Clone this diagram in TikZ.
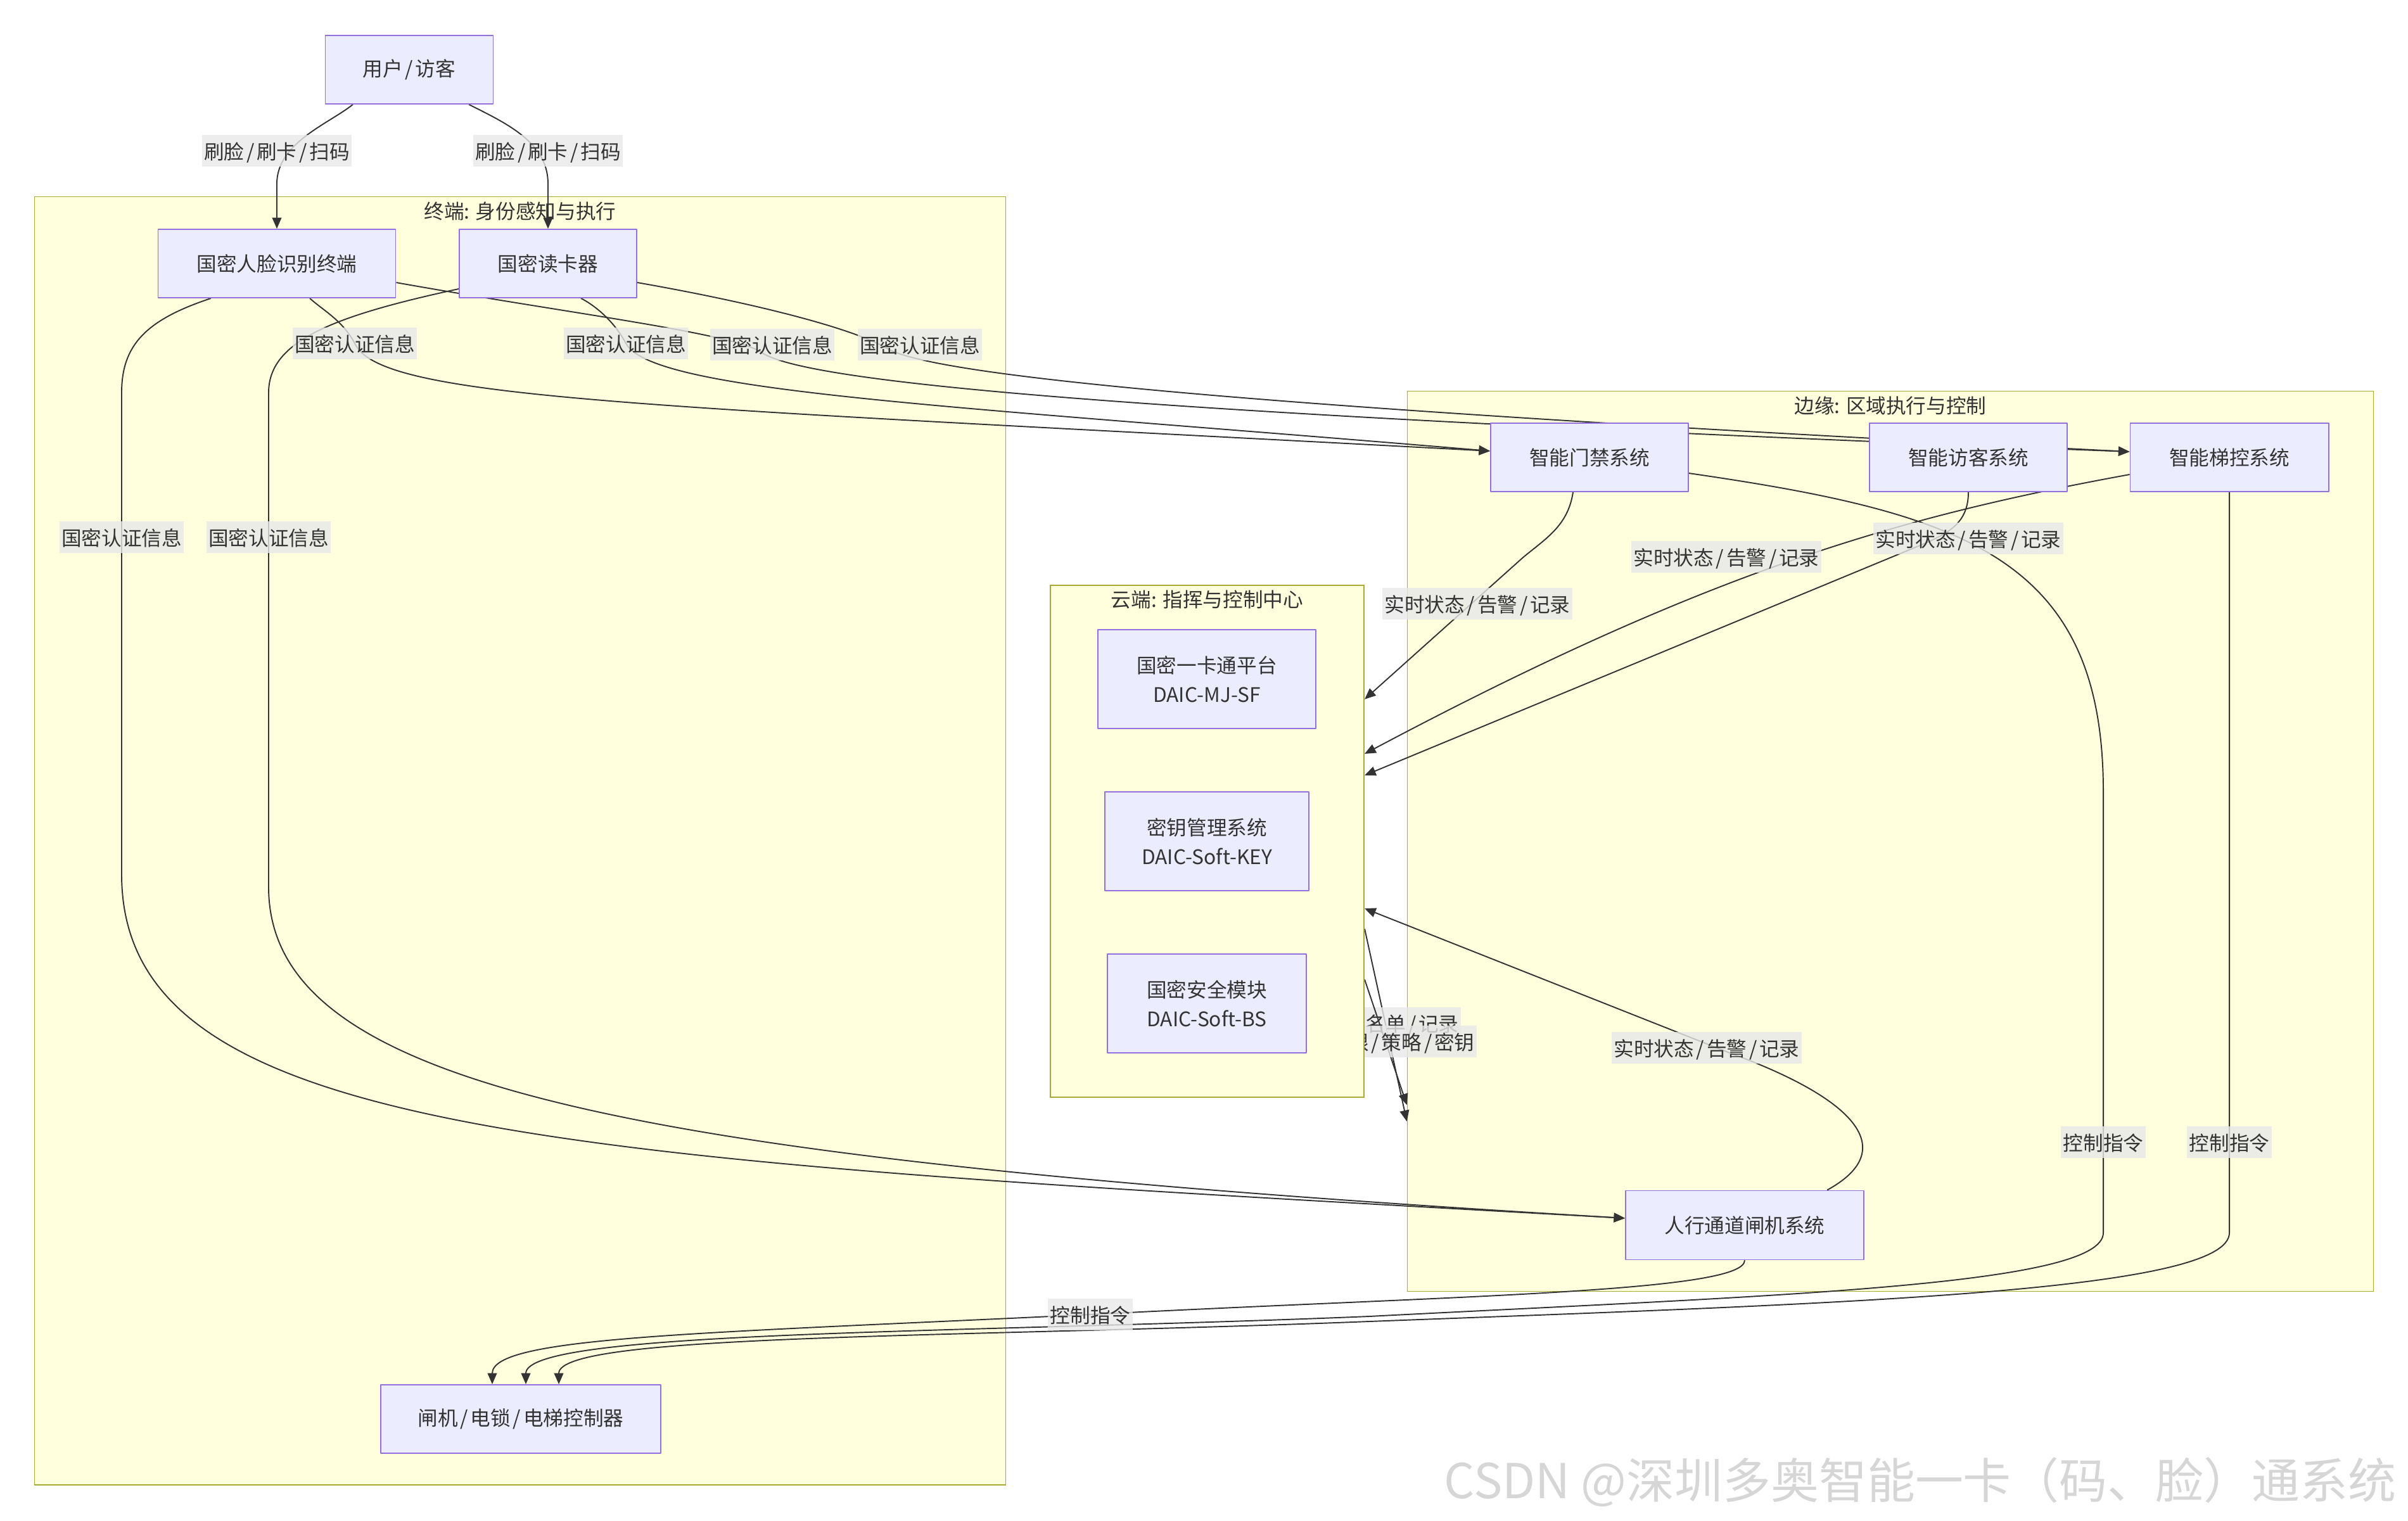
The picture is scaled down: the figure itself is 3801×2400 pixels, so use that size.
\documentclass[tikz,border=0pt]{standalone}
\usepackage{fontspec}
\setmainfont{Noto Sans CJK SC}
\usetikzlibrary{arrows.meta}
\definecolor{nodefill}{HTML}{ECECFF}
\definecolor{nodeline}{HTML}{9370DB}
\definecolor{grpfill}{HTML}{FFFFDE}
\definecolor{grpline}{HTML}{AAAA33}
\definecolor{ink}{HTML}{333333}
\definecolor{lblbg}{HTML}{E8E8E8}
\pgfdeclarelayer{bg}
\pgfdeclarelayer{lines}
\pgfdeclarelayer{cloudl}
\pgfsetlayers{bg,lines,cloudl,main}
\newcommand{\sls}{\kern.12em/\kern.12em}
\tikzset{
  sysbox/.style={draw=nodeline,fill=nodefill,line width=.5pt,text=ink,inner sep=0pt,align=center,minimum height=1.08cm},
  grp/.style={draw=grpline,fill=grpfill,line width=.5pt,inner sep=0pt},
  grptitle/.style={text=ink,inner sep=0pt},
  conn/.style={draw=ink,line width=.55pt,-{Triangle[length=5pt,width=4.2pt]}},
  lbl/.style={fill=lblbg,fill opacity=.8,text opacity=1,text=ink,inner xsep=1pt,inner ysep=2.2pt,text height=.88em,text depth=.12em},
}
\begin{document}
\begin{tikzpicture}[x=.01cm,y=-.01cm,line join=round,font=\fontsize{9pt}{13pt}\selectfont]
	\useasboundingbox (0,0) rectangle (3801,2400);
	% subgraphs
	\begin{pgfonlayer}{bg}
	\node[grp,minimum width=15.32cm,minimum height=20.32cm] (term) at (821,1327) {};
	\node[grptitle] (termt) at ([yshift=-.24cm]term.north) {终端: 身份感知与执行};
	\node[grp,minimum width=15.24cm,minimum height=14.2cm] (edgecl) at (2984,1328) {};
	\node[grptitle] (edget) at ([yshift=-.24cm]edgecl.north) {边缘: 区域执行与控制};
	\end{pgfonlayer}
	\begin{pgfonlayer}{cloudl}
	\node[grp,minimum width=4.95cm,minimum height=8.08cm] (cloud) at (1905.5,1328) {};
	\node[grptitle] (cloudt) at ([yshift=-.24cm]cloud.north) {云端: 指挥与控制中心};
	\end{pgfonlayer}
	% boxes
	\node[sysbox,minimum width=2.65cm] (user) at (646,110) {用户\sls 访客};
	\node[sysbox,minimum width=3.75cm] (face) at (437,416) {国密人脸识别终端};
	\node[sysbox,minimum width=2.8cm] (reader) at (865,416) {国密读卡器};
	\node[sysbox,minimum width=4.42cm] (ctrl) at (822,2240) {闸机\sls 电锁\sls 电梯控制器};
	\node[sysbox,minimum width=3.12cm] (door) at (2509,722) {智能门禁系统};
	\node[sysbox,minimum width=3.12cm] (visitor) at (3107,722) {智能访客系统};
	\node[sysbox,minimum width=3.13cm] (lift) at (3519,722) {智能梯控系统};
	\node[sysbox,minimum width=3.76cm,minimum height=1.09cm] (gate) at (2754,1934) {人行通道闸机系统};
	\node[sysbox,minimum width=3.44cm,minimum height=1.56cm] (card) at (1905,1072) {国密一卡通平台\\DAIC-MJ-SF};
	\node[sysbox,minimum width=3.22cm,minimum height=1.56cm] (kms) at (1905,1328) {密钥管理系统\\DAIC-Soft-KEY};
	\node[sysbox,minimum width=3.14cm,minimum height=1.56cm] (hsm) at (1905,1584) {国密安全模块\\DAIC-Soft-BS};
	\node[anchor=east,text=black!16,font=\fontsize{21.6pt}{26pt}\selectfont] (wm) at (3795,2340) {CSDN @深圳多奥智能一卡（码、脸）通系统};
	\begin{pgfonlayer}{lines}
	% user -> terminals
	\draw[conn] ([xshift=-.89cm]user.south) .. controls (520,195) and (437,225) .. (437,290) -- (face.north)
	node[lbl] at (437,238) {刷脸\sls 刷卡\sls 扫码};
	\draw[conn] ([xshift=.94cm]user.south) .. controls (800,195) and (865,225) .. (865,290) -- (reader.north)
	node[lbl] at (865,238) {刷脸\sls 刷卡\sls 扫码};
	% terminals -> gate
	\draw[conn] ([xshift=-1.04cm]face.south) .. controls (230,505) and (192,545) .. (192,620) -- (192,1380)
	.. controls (192,1800) and (900,1830) .. ([yshift=.11cm]gate.west)
	node[lbl] at (192,848) {国密认证信息};
	\draw[conn] ([yshift=-.4cm]reader.west) .. controls (520,500) and (424,540) .. (424,620) -- (424,1400)
	.. controls (424,1720) and (1000,1830) .. ([yshift=.11cm]gate.west)
	node[lbl] at (424,848) {国密认证信息};
	% terminals -> lift
	\draw[conn] ([yshift=-.3cm]face.east) .. controls (900,495) and (1150,525) .. (1200,555)
	.. controls (1260,600) and (1700,650) .. ([yshift=.09cm]lift.west)
	node[lbl] at (1219,544) {国密认证信息};
	\draw[conn] ([yshift=-.3cm]reader.east) .. controls (1200,480) and (1350,520) .. (1400,550)
	.. controls (1470,590) and (1900,640) .. ([yshift=.09cm]lift.west)
	node[lbl] at (1452,544) {国密认证信息};
	% terminals -> door
	\draw[conn] ([xshift=.52cm]face.south) .. controls (510,490) and (540,505) .. (560,542)
	.. controls (600,630) and (1000,640) .. ([yshift=.1cm]door.west)
	node[lbl] at (560,542) {国密认证信息};
	\draw[conn] ([xshift=.52cm]reader.south) .. controls (935,480) and (967,503) .. (988,542)
	.. controls (1030,620) and (1500,640) .. ([yshift=.1cm]door.west)
	node[lbl] at (988,542) {国密认证信息};
	% control commands
	\draw[conn] ([yshift=-.25cm]door.east) .. controls (3100,810) and (3320,880) .. (3320,1250) -- (3320,1946)
	.. controls (3320,2030) and (2800,2045) .. (2161,2078)
	.. controls (1500,2105) and (830,2100) .. ([xshift=.08cm]ctrl.north)
	node[lbl] at (3320,1803) {控制指令};
	\draw[conn] (lift.south) -- (3519,1946) .. controls (3519,2040) and (2900,2058) .. (2161,2086)
	.. controls (1500,2112) and (882,2105) .. ([xshift=.6cm]ctrl.north)
	node[lbl] at (3519,1803) {控制指令};
	% status up to cloud
	\draw[conn] ([xshift=-.26cm]door.south) .. controls (2475,830) and (2440,850) .. (2404,880) -- ([yshift=2.24cm]cloud.east)
	node[lbl] at (2332,953) {实时状态\sls 告警\sls 记录};
	\draw[conn] ([yshift=-.27cm]lift.west) .. controls (3000,815) and (2700,900) .. ([yshift=1.38cm]cloud.east)
	node[lbl] at (2725,879) {实时状态\sls 告警\sls 记录};
	\draw[conn] (visitor.south) .. controls (3107,830) and (3070,845) .. (3016,867) -- ([yshift=1.04cm]cloud.east)
	node[lbl] at (3107,850) {实时状态\sls 告警\sls 记录};
	\draw[conn] ([xshift=1.3cm]gate.north) .. controls (3000,1815) and (2930,1735) .. (2730,1662) -- ([yshift=-1.06cm]cloud.east)
	node[lbl] at (2694,1654) {实时状态\sls 告警\sls 记录};
	% cloud -> edge
	\draw[conn] ([yshift=-1.38cm]cloud.east) -- ([yshift=-4.42cm]edgecl.west)
	node[lbl,anchor=east] at (2307,1615) {白名单\sls 黑名单\sls 记录};
	\draw[conn] ([yshift=-2.18cm]cloud.east) -- ([yshift=-4.16cm]edgecl.west)
	node[lbl,anchor=east] at (2332,1644) {权限\sls 策略\sls 密钥};
	% gate -> controller
	\draw[conn] (gate.south) .. controls (2754,2040) and (2300,2045) .. (1721,2075)
	.. controls (1100,2105) and (777,2110) .. ([xshift=-.45cm]ctrl.north)
	node[lbl] at (1721,2075) {控制指令};
	\end{pgfonlayer}
\end{tikzpicture}
\end{document}
